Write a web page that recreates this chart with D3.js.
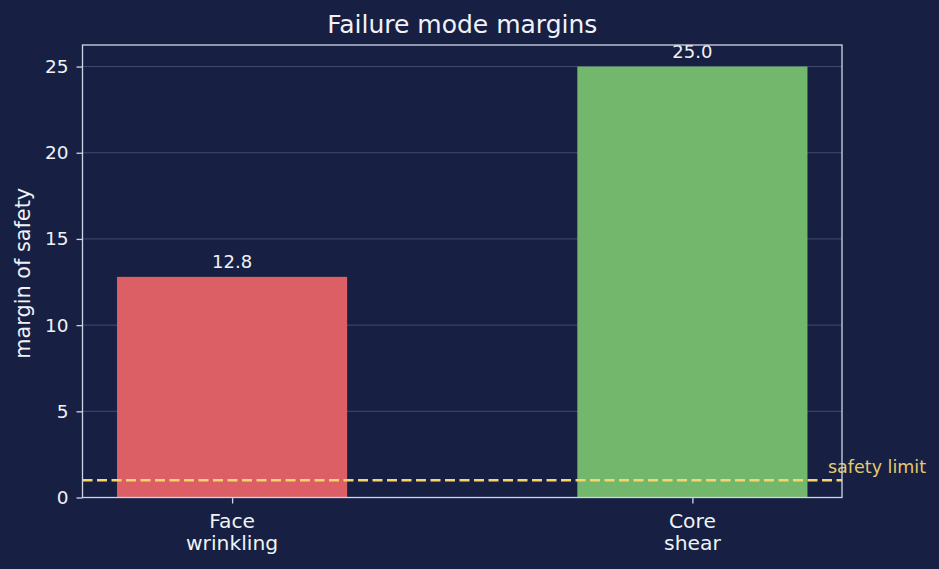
<!DOCTYPE html>
<html>
<head>
<meta charset="utf-8">
<script src="https://cdn.jsdelivr.net/npm/d3@7"></script>
<style>
  body { margin: 0; background: #172042; }
  svg { display: block; font-family: "DejaVu Sans", sans-serif; }
</style>
</head>
<body>
<svg id="chart" width="939" height="569"></svg>
<script>
// data
const modes = ["Face\nwrinkling", "Core\nshear"];
const margins = [12.8, 25.0];
const barColors = ["#dc5f65", "#73b76c"];
const yTicks = [0, 5, 10, 15, 20, 25];
const safetyLimit = 1.0;

const width = 939, height = 569;
const padding = { top: 45, right: 97, bottom: 71.5, left: 82.5 };
const innerW = width - padding.left - padding.right;
const innerH = height - padding.top - padding.bottom;

const svg = d3.select("#chart");
svg.append("rect").attr("width", width).attr("height", height).attr("fill", "#172042");

const xScale = d3.scaleLinear().domain([-0.325, 1.325]).range([0, innerW]);
const yScale = d3.scaleLinear().domain([0, 26.25]).range([innerH, 0]);

const g = svg.append("g").attr("transform", `translate(${padding.left},${padding.top})`);

// grid
g.selectAll(".grid").data(yTicks.slice(1)).enter().append("line")
  .attr("x1", 0).attr("x2", innerW)
  .attr("y1", d => yScale(d)).attr("y2", d => yScale(d))
  .attr("stroke", "#8a94b0").attr("stroke-opacity", 0.38).attr("stroke-width", 1);

// bars
const barW = 0.5;
g.selectAll(".bar").data(margins).enter().append("rect")
  .attr("x", (d, i) => xScale(i - barW / 2))
  .attr("width", (d, i) => xScale(i + barW / 2) - xScale(i - barW / 2))
  .attr("y", d => yScale(d))
  .attr("height", d => innerH - yScale(d))
  .attr("fill", (d, i) => barColors[i]);

// value labels
g.selectAll(".val").data(margins).enter().append("text")
  .attr("x", (d, i) => xScale(i))
  .attr("y", d => yScale(d) - 9)
  .attr("text-anchor", "middle")
  .attr("fill", "#f0f2f8").attr("font-size", 18)
  .text(d => d.toFixed(1));

// safety limit
g.append("line")
  .attr("x1", 0).attr("x2", innerW)
  .attr("y1", yScale(safetyLimit)).attr("y2", yScale(safetyLimit))
  .attr("stroke", "#f7d56c").attr("stroke-width", 2.3)
  .attr("stroke-dasharray", "10,4.5");
g.append("text")
  .attr("x", innerW - 14).attr("y", yScale(safetyLimit) - 7.5)
  .attr("fill", "#e3ca6e").attr("font-size", 17.5)
  .text("safety limit");

// frame
g.append("rect").attr("width", innerW).attr("height", innerH)
  .attr("fill", "none").attr("stroke", "#ced6e6").attr("stroke-width", 1.3);

// axes
const yAxis = d3.axisLeft(yScale).tickValues(yTicks).tickSize(6).tickPadding(8);
const ya = g.append("g").call(yAxis);
ya.select(".domain").remove();
ya.selectAll("line").attr("stroke", "#ced6e6").attr("stroke-width", 1.3);
ya.selectAll("text").attr("fill", "#f0f2f8").attr("font-size", 18.5).attr("font-family", "DejaVu Sans, sans-serif");

const xAxis = d3.axisBottom(xScale).tickValues([0, 1]).tickSize(6).tickFormat("");
const xa = g.append("g").attr("transform", `translate(0,${innerH})`).call(xAxis);
xa.select(".domain").remove();
xa.selectAll("line").attr("stroke", "#ced6e6").attr("stroke-width", 1.3);

modes.forEach((m, i) => {
  const t = g.append("text")
    .attr("x", xScale(i)).attr("y", innerH + 30)
    .attr("text-anchor", "middle").attr("fill", "#f0f2f8").attr("font-size", 20.3);
  m.split("\n").forEach((line, k) => {
    t.append("tspan").attr("x", xScale(i)).attr("dy", k === 0 ? 0 : 22.5).text(line);
  });
});

// y label
svg.append("text")
  .attr("transform", `translate(30,${padding.top + innerH / 2 + 2}) rotate(-90)`)
  .attr("text-anchor", "middle").attr("fill", "#f0f2f8").attr("font-size", 20.8)
  .text("margin of safety");

// title
svg.append("text")
  .attr("x", padding.left + innerW / 2).attr("y", 33)
  .attr("text-anchor", "middle").attr("fill", "#f0f2f8").attr("font-size", 25)
  .text("Failure mode margins");
</script>
</body>
</html>
